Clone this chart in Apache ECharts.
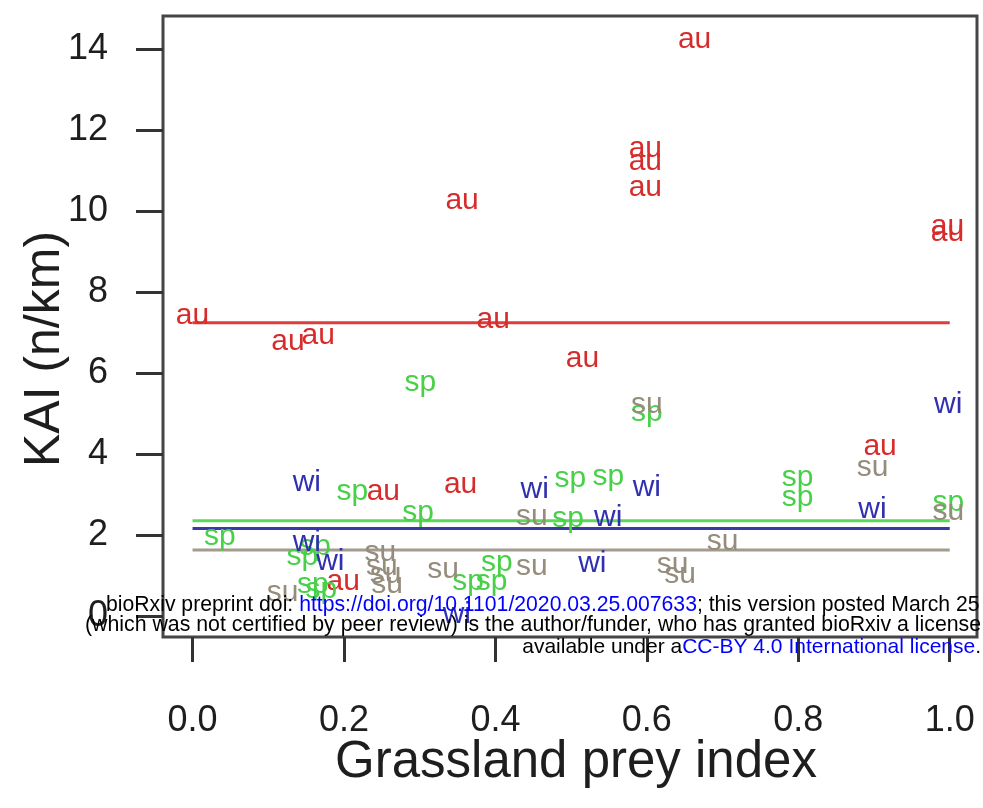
<!DOCTYPE html>
<html><head><meta charset="utf-8">
<script src="https://cdn.jsdelivr.net/npm/echarts@6/dist/echarts.min.js"></script>
<style>html,body{margin:0;padding:0;background:#fff}#c{width:983px;height:808px}</style>
</head><body><div id="c"></div>
<script>
// ---- data ----
const auX = [0.663, 0.598, 0.598, 0.598, 0.997, 0.997, 0.356, 0.000, 0.126, 0.166, 0.397, 0.515, 0.908, 0.252, 0.354, 0.199];
const auY = [14.22, 11.53, 11.21, 10.57, 9.60, 9.46, 10.25, 7.41, 6.77, 6.91, 7.31, 6.35, 4.17, 3.06, 3.23, 0.84];
const spX = [0.301, 0.600, 0.211, 0.298, 0.036, 0.499, 0.549, 0.496, 0.799, 0.799, 0.998, 0.402, 0.364, 0.395, 0.145, 0.162, 0.159, 0.170];
const spY = [5.75, 5.01, 3.06, 2.54, 1.95, 3.38, 3.43, 2.40, 3.41, 2.91, 2.79, 1.31, 0.84, 0.84, 1.46, 1.70, 0.76, 0.64];
const wiX = [0.151, 0.452, 0.600, 0.549, 0.898, 0.998, 0.151, 0.182, 0.528, 0.349];
const wiY = [3.28, 3.11, 3.16, 2.42, 2.62, 5.21, 1.80, 1.33, 1.28, 0.03];
const suX = [0.600, 0.898, 0.998, 0.448, 0.700, 0.448, 0.331, 0.634, 0.644, 0.248, 0.250, 0.255, 0.257, 0.119];
const suY = [5.21, 3.65, 2.57, 2.44, 1.83, 1.21, 1.14, 1.26, 1.01, 1.56, 1.21, 1.01, 0.77, 0.57];
const seasons = ['au', 'sp', 'wi', 'su'];
const seasonMeans = [7.24, 2.35, 2.16, 1.63];
const meanLineX = [0, 1];
const xTickValues = [0, 0.2, 0.4, 0.6, 0.8, 1.0];
const xTickLabels = ['0.0', '0.2', '0.4', '0.6', '0.8', '1.0'];
const yTickValues = [0, 2, 4, 6, 8, 10, 12, 14];
const yTickLabels = ['0', '2', '4', '6', '8', '10', '12', '14'];
const xTitle = 'Grassland prey index';
const yTitle = 'KAI (n/km)';

// ---- styles ----
const FONT = '"Liberation Sans", Arial, Helvetica, sans-serif';
const textColors = { au: '#d62c2c', sp: '#48d048', wi: '#3030b0', su: '#958c7c' };
const lineColors = { au: '#de3c3c', sp: '#5ad85a', wi: '#3a3aa6', su: '#a39b8d' };
const pointSets = { au: [auX, auY], sp: [spX, spY], wi: [wiX, wiY], su: [suX, suY] };

function labelSeries(name) {
  const xs = pointSets[name][0], ys = pointSets[name][1];
  return {
    type: 'custom', name: name, xAxisIndex: 0, yAxisIndex: 0, z: 5, clip: false,
    data: xs.map((x, i) => [x, ys[i]]),
    renderItem: function (params, api) {
      const p = api.coord([api.value(0), api.value(1)]);
      return {
        type: 'text', x: p[0], y: p[1],
        style: { text: name, fill: textColors[name], font: '30px ' + FONT, align: 'center', verticalAlign: 'middle' }
      };
    }
  };
}
function meanSeries(name, idx) {
  return {
    type: 'line', xAxisIndex: 0, yAxisIndex: 0, z: 2, symbol: 'none', silent: true,
    data: meanLineX.map(x => [x, seasonMeans[idx]]),
    lineStyle: { color: lineColors[name], width: 3 }
  };
}

const chart = echarts.init(document.getElementById('c'), null, { renderer: 'canvas' });
chart.setOption({
  animation: false,
  backgroundColor: '#fff',
  grid: [
    { left: 163, right: 6, top: 16, bottom: 171, show: true, borderColor: '#454545', borderWidth: 3, backgroundColor: 'transparent' }
  ],
  xAxis: [
    { gridIndex: 0, type: 'value', min: -0.039, max: 1.036,
      axisLine: { show: false, onZero: false }, splitLine: { show: false },
      axisTick: { show: true, inside: false, length: 25, customValues: xTickValues, lineStyle: { color: '#333', width: 3 } },
      axisLabel: { margin: 66, fontSize: 36, fontFamily: FONT, color: '#1e1e1e', customValues: xTickValues,
        formatter: v => xTickLabels[xTickValues.indexOf(v)] } }
  ],
  yAxis: [
    { gridIndex: 0, type: 'value', min: -0.52, max: 14.81,
      axisLine: { show: false, onZero: false }, splitLine: { show: false },
      axisTick: { show: true, inside: false, length: 27, customValues: yTickValues, lineStyle: { color: '#333', width: 3 } },
      axisLabel: { margin: 55, fontSize: 36, fontFamily: FONT, color: '#1e1e1e', customValues: yTickValues,
        formatter: v => yTickLabels[yTickValues.indexOf(v)] } }
  ],
  series: seasons.map((s, i) => meanSeries(s, i)).concat(seasons.map(labelSeries)),
  graphic: [
    { type: 'text', x: 576, y: 763, z: 10,
      style: { text: xTitle, font: '51px ' + FONT, fill: '#1e1e1e', align: 'center', verticalAlign: 'middle' } },
    { type: 'text', x: 45, y: 349, rotation: Math.PI / 2, z: 10,
      style: { text: yTitle, font: '50px ' + FONT, fill: '#1e1e1e', align: 'center', verticalAlign: 'middle' } },
    { type: 'text', x: 106, y: 605, z: 20,
      style: { text: '{k|bioRxiv preprint doi: }{u|https://doi.org/10.1101/2020.03.25.007633}{k|; this version posted March 25}',
        font: '21.2px ' + FONT, fill: '#000', align: 'left', verticalAlign: 'middle',
        rich: { k: { fill: '#000', fontSize: 21.2, fontFamily: FONT }, u: { fill: '#0000ff', fontSize: 21.2, fontFamily: FONT } } } },
    { type: 'text', x: 85, y: 625, z: 20,
      style: { text: '(which was not certified by peer review) is the author/funder, who has granted bioRxiv a license',
        font: '21.3px ' + FONT, fill: '#000', align: 'left', verticalAlign: 'middle' } },
    { type: 'text', x: 981, y: 647, z: 20,
      style: { text: '{k|available under a}{u|CC-BY 4.0 International license}{k|.}',
        font: '21px ' + FONT, fill: '#000', align: 'right', verticalAlign: 'middle',
        rich: { k: { fill: '#000', fontSize: 21, fontFamily: FONT }, u: { fill: '#0000ff', fontSize: 21, fontFamily: FONT } } } }
  ]
});
</script></body></html>
